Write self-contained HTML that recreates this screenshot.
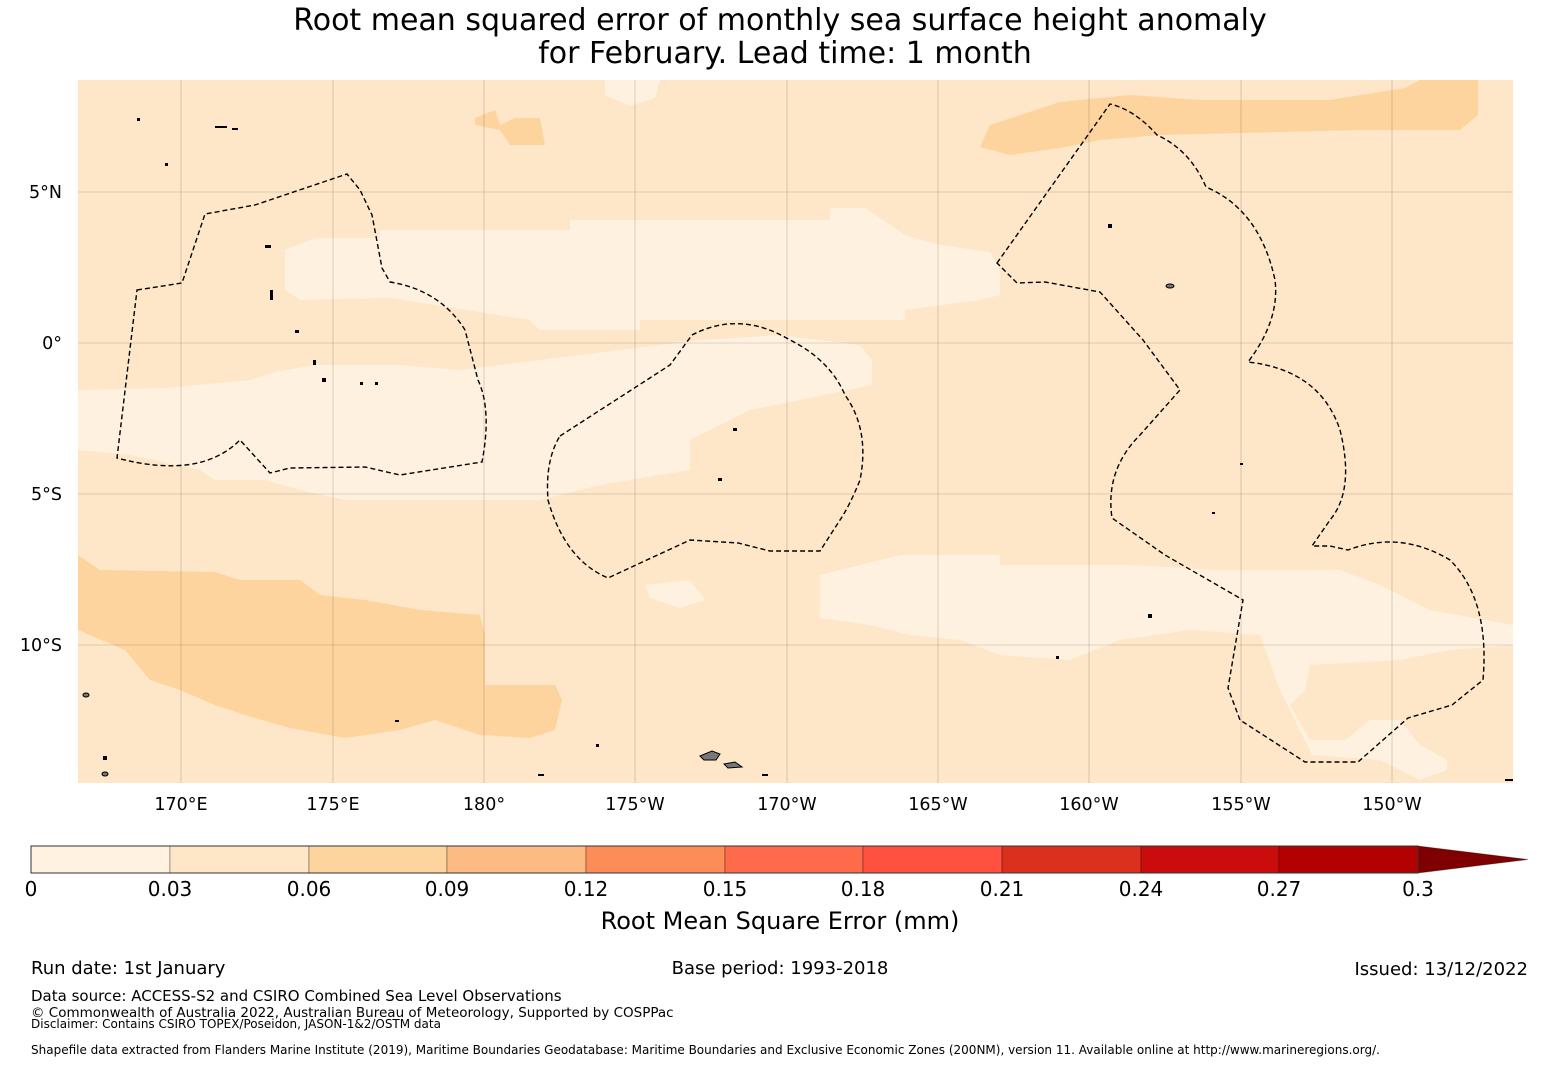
<!DOCTYPE html>
<html><head><meta charset="utf-8"><style>
body{margin:0;background:#fff;width:1560px;height:1065px;overflow:hidden;font-family:"DejaVu Sans","Liberation Sans",sans-serif;}
</style></head><body>
<svg width="1560" height="1065" xmlns="http://www.w3.org/2000/svg" font-family="DejaVu Sans, Liberation Sans, sans-serif">
<text x="780" y="30" font-size="30" text-anchor="middle">Root mean squared error of monthly sea surface height anomaly</text>
<text x="785" y="63" font-size="30" text-anchor="middle">for February. Lead time: 1 month</text>
<defs><clipPath id="c"><rect x="78" y="80" width="1435" height="703"/></clipPath></defs>
<g clip-path="url(#c)">
<rect x="78" y="80" width="1435" height="703" fill="#fee6c8"/>
<g fill="#fff1df">
<polygon points="605,80 660,80 655,98 630,106 605,95"/>
<polygon points="285,250 315,238 380,238 380,230 570,230 570,220 830,220 830,208 865,208 880,218 905,235 940,245 990,252 1000,270 1000,295 980,300 905,310 905,320 640,320 640,330 540,330 530,320 390,298 300,300 285,290"/>
<polygon points="78,390 165,388 250,380 275,372 315,365 400,365 460,370 540,360 620,350 700,340 780,335 860,345 872,360 872,385 800,400 750,410 710,430 690,440 690,470 600,485 540,500 345,500 300,490 265,480 215,480 200,470 130,455 78,450"/>
<polygon points="820,575 900,555 1000,555 1000,565 1130,565 1220,570 1340,570 1380,585 1430,610 1513,625 1513,645 1450,650 1400,660 1310,665 1305,690 1290,705 1310,740 1345,740 1370,720 1400,720 1420,745 1447,760 1447,770 1420,780 1380,760 1312,755 1280,690 1260,635 1190,630 1120,640 1070,660 1000,655 960,640 910,635 870,625 820,618"/>
<polygon points="645,585 690,580 705,600 680,608 650,598"/>
</g>
<g fill="#fdd49e">
<polygon points="980,147 990,125 1060,102 1130,95 1200,100 1330,100 1405,88 1420,80 1478,80 1478,115 1460,130 1360,130 1160,135 1100,140 1060,148 1010,155"/>
<polygon points="475,118 495,110 500,125 515,118 540,118 545,145 510,145 500,130 475,125"/>
<polygon points="78,555 100,570 215,572 240,580 300,580 320,595 365,600 420,610 480,615 485,635 485,685 555,685 562,700 555,730 530,738 480,735 435,720 400,730 345,738 290,728 245,715 215,705 180,690 150,680 125,650 78,630"/>
</g>
<g stroke="#000" stroke-opacity="0.25" stroke-width="0.6">
<line x1="78" y1="192" x2="1513" y2="192"/><line x1="78" y1="343" x2="1513" y2="343"/><line x1="78" y1="494" x2="1513" y2="494"/><line x1="78" y1="645" x2="1513" y2="645"/>
<line x1="181" y1="80" x2="181" y2="783"/><line x1="333" y1="80" x2="333" y2="783"/><line x1="484" y1="80" x2="484" y2="783"/><line x1="635" y1="80" x2="635" y2="783"/><line x1="787" y1="80" x2="787" y2="783"/><line x1="938" y1="80" x2="938" y2="783"/><line x1="1089" y1="80" x2="1089" y2="783"/><line x1="1241" y1="80" x2="1241" y2="783"/><line x1="1392" y1="80" x2="1392" y2="783"/>
</g>
<g fill="none" stroke="#000" stroke-width="1.4" stroke-dasharray="5,3">
<path d="M137,290 L182,283 L205,214 L255,205 L347,174 L360,190 L372,215 L382,268 L390,282 Q440,290 465,330 L478,380 Q492,410 482,462 L400,475 L365,467 L290,468 L270,473 L240,440 Q200,480 117,458 Z"/>
<path d="M560,436 L670,365 L692,335 Q740,310 790,340 Q830,360 845,395 Q870,430 860,480 Q850,505 840,520 L820,551 L770,551 L738,543 L690,540 L608,578 Q565,560 548,500 Q545,460 560,436Z"/>
<path d="M997,263 L1110,104 Q1135,110 1157,135 Q1190,150 1206,187 Q1260,210 1275,280 Q1280,320 1248,362 Q1320,370 1340,430 Q1355,490 1330,520 L1312,546 L1330,546 L1348,550 Q1400,530 1450,560 Q1490,600 1483,680 L1452,705 L1408,718 L1358,762 L1305,762 L1240,720 L1228,688 L1243,600 L1165,555 L1112,518 Q1105,470 1140,435 L1180,390 L1143,340 L1100,292 L1045,282 L1017,283 Z"/>
</g>
<g fill="#777" stroke="#000" stroke-width="1">
<path d="M700,756 L712,751 L720,754 L716,760 L704,760Z"/><path d="M724,764 L735,762 L742,767 L728,768Z"/>
<ellipse cx="105" cy="774" rx="3" ry="2"/><ellipse cx="86" cy="695" rx="3" ry="2"/><ellipse cx="1170" cy="286" rx="4" ry="2"/>
</g>
<g fill="#000">
<rect x="215" y="126" width="12" height="2"/><rect x="232" y="128" width="6" height="2"/><rect x="137" y="118" width="3" height="3"/><rect x="165" y="163" width="3" height="3"/><rect x="265" y="245" width="6" height="3"/><rect x="270" y="290" width="3" height="10"/><rect x="295" y="330" width="4" height="3"/><rect x="313" y="360" width="3" height="5"/><rect x="322" y="378" width="4" height="4"/><rect x="360" y="382" width="3" height="3"/><rect x="375" y="382" width="3" height="3"/><rect x="733" y="428" width="4" height="3"/><rect x="718" y="478" width="4" height="3"/><rect x="1108" y="224" width="4" height="4"/><rect x="596" y="744" width="3" height="3"/><rect x="395" y="720" width="4" height="2"/><rect x="538" y="774" width="6" height="2"/><rect x="762" y="774" width="6" height="2"/><rect x="1148" y="614" width="4" height="4"/><rect x="1056" y="656" width="3" height="3"/><rect x="1212" y="512" width="3" height="2"/><rect x="1240" y="463" width="3" height="2"/><rect x="1505" y="779" width="8" height="2"/><rect x="103" y="756" width="4" height="4"/>
</g>
</g>
<g font-size="17.5" fill="#000">
<text x="62" y="198" text-anchor="end">5°N</text><text x="62" y="349" text-anchor="end">0°</text><text x="62" y="500" text-anchor="end">5°S</text><text x="62" y="651" text-anchor="end">10°S</text>
<g text-anchor="middle"><text x="181" y="810">170°E</text><text x="333" y="810">175°E</text><text x="484" y="810">180°</text><text x="635" y="810">175°W</text><text x="787" y="810">170°W</text><text x="938" y="810">165°W</text><text x="1089" y="810">160°W</text><text x="1241" y="810">155°W</text><text x="1392" y="810">150°W</text></g>
</g>
<g stroke="#000" stroke-opacity="0.3" stroke-width="1">
<rect x="31" y="846" width="139" height="27" fill="#fff2e0"/><rect x="170" y="846" width="139" height="27" fill="#fee7c7"/><rect x="309" y="846" width="138" height="27" fill="#fdd49e"/><rect x="447" y="846" width="139" height="27" fill="#fdbb84"/><rect x="586" y="846" width="139" height="27" fill="#fc8d59"/><rect x="725" y="846" width="138" height="27" fill="#fe6b4a"/><rect x="863" y="846" width="139" height="27" fill="#ff5040"/><rect x="1002" y="846" width="139" height="27" fill="#dc301f"/><rect x="1141" y="846" width="138" height="27" fill="#cb0c0c"/><rect x="1279" y="846" width="139" height="27" fill="#b30000"/>
<polygon points="1418,846 1528,859.5 1418,873" fill="#7f0000"/>
</g>
<rect x="31" y="846" width="1387" height="27" fill="none" stroke="#333" stroke-width="1"/>
<g font-size="20" text-anchor="middle"><text x="31" y="896">0</text><text x="170" y="896">0.03</text><text x="309" y="896">0.06</text><text x="447" y="896">0.09</text><text x="586" y="896">0.12</text><text x="725" y="896">0.15</text><text x="863" y="896">0.18</text><text x="1002" y="896">0.21</text><text x="1141" y="896">0.24</text><text x="1279" y="896">0.27</text><text x="1418" y="896">0.3</text></g>
<text x="780" y="929" font-size="24" text-anchor="middle">Root Mean Square Error (mm)</text>
<text x="31" y="974" font-size="18">Run date: 1st January</text>
<text x="780" y="974" font-size="18" text-anchor="middle">Base period: 1993-2018</text>
<text x="1528" y="975" font-size="18" text-anchor="end">Issued: 13/12/2022</text>
<text x="31" y="1001" font-size="15">Data source: ACCESS-S2 and CSIRO Combined Sea Level Observations</text>
<text x="31" y="1017" font-size="13.5">© Commonwealth of Australia 2022, Australian Bureau of Meteorology, Supported by COSPPac</text>
<text x="31" y="1028" font-size="12">Disclaimer: Contains CSIRO TOPEX/Poseidon, JASON-1&amp;2/OSTM data</text>
<text x="31" y="1054" font-size="12">Shapefile data extracted from Flanders Marine Institute (2019), Maritime Boundaries Geodatabase: Maritime Boundaries and Exclusive Economic Zones (200NM), version 11. Available online at http://www.marineregions.org/.</text>
</svg>
</body></html>
